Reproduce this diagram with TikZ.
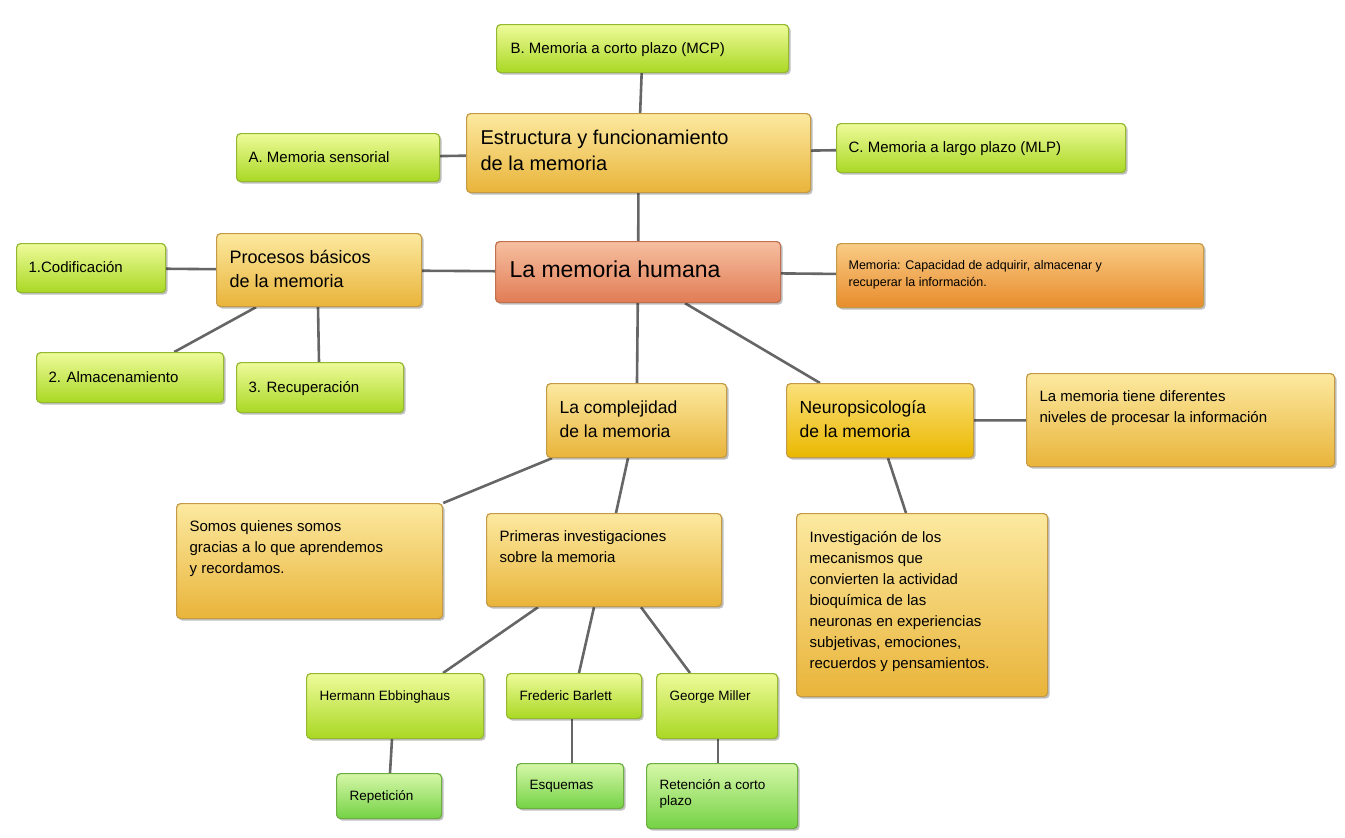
\documentclass[tikz,border=0pt]{standalone}
\usepackage{fontspec}
\setmainfont{Liberation Sans}
\usetikzlibrary{shadows}
\pgfdeclarelayer{bg}\pgfsetlayers{bg,main}
\definecolor{gT}{HTML}{EEFB9A}\definecolor{gB}{HTML}{A9D823}\definecolor{gD}{HTML}{94B830}
\definecolor{yT}{HTML}{FCE9A0}\definecolor{yB}{HTML}{E9B43A}\definecolor{yD}{HTML}{C49A45}
\definecolor{sT}{HTML}{F6BFA0}\definecolor{sB}{HTML}{E17C55}\definecolor{sD}{HTML}{C0704E}
\definecolor{oT}{HTML}{F9CB85}\definecolor{oB}{HTML}{E88C2C}
\definecolor{nT}{HTML}{FBE07A}\definecolor{nB}{HTML}{EAB800}
\definecolor{lT}{HTML}{D6F7A8}\definecolor{lB}{HTML}{74D245}\definecolor{lD}{HTML}{6CAF40}
\definecolor{ln}{HTML}{666666}
\tikzset{
 bx/.style={rectangle,rounded corners=4pt,line width=1.2pt,inner sep=0pt,
   drop shadow={shadow xshift=2pt,shadow yshift=-2pt,fill=black,opacity=0.25}},
 gbox/.style={bx,draw=gD,top color=gT,bottom color=gB},
 ybox/.style={bx,draw=yD,top color=yT,bottom color=yB},
 sbox/.style={bx,draw=sD,top color=sT,bottom color=sB},
 obox/.style={bx,draw=yD,top color=oT,bottom color=oB},
 nbox/.style={bx,draw=yD,top color=nT,bottom color=nB},
 lbox/.style={bx,draw=lD,top color=lT,bottom color=lB},
 con/.style={draw=ln,line width=2.6pt},
}
\newcommand\bxx[9]{%
 \pgfmathsetmacro\W{#4-#2}\pgfmathsetmacro\H{#5-#3}
 \pgfmathsetmacro\TW{#4-#2-2*#7}
 \node[#6,minimum width=\W pt,minimum height=\H pt,anchor=north west] (#1) at (#2,#3)
  {\parbox[c][\H pt][t]{\W pt}{\vspace*{#8pt}\hspace*{#7pt}\parbox[t]{\TW pt}{\raggedright #9}}};}
\begin{document}
\begin{tikzpicture}[x=1pt,y=-1pt]
\useasboundingbox (0,0) rectangle (1345,838);
\bxx{B}{496}{24}{788}{72}{gbox}{14}{18}{\fontsize{15}{18}\selectfont B. Memoria a corto plazo (MCP)}
\bxx{E}{466}{113}{810}{192}{ybox}{14}{16}{\fontsize{20}{26}\selectfont Estructura y funcionamiento\\de la memoria}
\bxx{A}{236}{133}{439}{181}{gbox}{12}{18}{\fontsize{15}{18}\selectfont A. Memoria sensorial}
\bxx{C}{836}{123}{1125}{172}{gbox}{12}{18}{\fontsize{15}{18}\selectfont C. Memoria a largo plazo (MLP)}
\bxx{P}{216}{233}{421}{306}{ybox}{13}{17}{\fontsize{18}{24}\selectfont Procesos básicos\\de la memoria}
\bxx{c1}{16}{243}{165}{292}{gbox}{12}{18}{\fontsize{15}{18}\selectfont 1.Codificación}
\bxx{M}{495}{241}{780}{302}{sbox}{14}{19}{\fontsize{23}{28}\selectfont La memoria humana}
\bxx{D}{836}{243}{1203}{307}{obox}{12}{17}{\fontsize{12.5}{17}\selectfont Memoria: Capacidad de adquirir, almacenar y\\recuperar la información.}
\bxx{c2}{36}{352}{223}{402}{gbox}{12}{19}{\fontsize{15}{18}\selectfont 2. Almacenamiento}
\bxx{c3}{236}{362}{403}{412}{gbox}{12}{19}{\fontsize{15}{18}\selectfont 3. Recuperación}
\bxx{Co}{546}{383}{726}{457}{ybox}{13}{17}{\fontsize{17.5}{24}\selectfont La complejidad\\de la memoria}
\bxx{N}{786}{383}{973}{457}{nbox}{13}{17}{\fontsize{17.5}{24}\selectfont Neuropsicología\\de la memoria}
\bxx{L}{1026}{373}{1334}{466}{ybox}{13}{17}{\fontsize{15}{21}\selectfont La memoria tiene diferentes\\niveles de procesar la información}
\bxx{S}{176}{503}{442}{618}{ybox}{13}{17}{\fontsize{15}{21}\selectfont Somos quienes somos\\gracias a lo que aprendemos\\y recordamos.}
\bxx{Pr}{486}{513}{721}{606}{ybox}{13}{17}{\fontsize{15}{21}\selectfont Primeras investigaciones\\sobre la memoria}
\bxx{I}{796}{513}{1047}{696}{ybox}{13}{18}{\fontsize{15}{21}\selectfont Investigación de los\\mecanismos que\\convierten la actividad\\bioquímica de las\\neuronas en experiencias\\subjetivas, emociones,\\recuerdos y pensamientos.}
\bxx{H}{306}{673}{483}{738}{gbox}{13}{17}{\fontsize{13.5}{17}\selectfont Hermann Ebbinghaus}
\bxx{F}{506}{673}{641}{718}{gbox}{13}{17}{\fontsize{13.5}{17}\selectfont Frederic Barlett}
\bxx{G}{656}{673}{777}{738}{gbox}{13}{17}{\fontsize{13.5}{17}\selectfont George Miller}
\bxx{R}{336}{773}{441}{818}{lbox}{13}{17}{\fontsize{13.5}{17}\selectfont Repetición}
\bxx{Es}{516}{763}{623}{808}{lbox}{13}{17}{\fontsize{13.5}{17}\selectfont Esquemas}
\bxx{Rc}{646}{763}{797}{828}{lbox}{13}{16}{\fontsize{13.5}{16}\selectfont Retención a corto\\plazo}
\begin{pgfonlayer}{bg}
\draw[con] (B) -- (E);
\draw[con] (A) -- (E);
\draw[con] (C) -- (E);
\draw[con] (E) -- (M);
\draw[con] (P) -- (M);
\draw[con] (c1) -- (P);
\draw[con] (M) -- (D);
\draw[con] ([xshift=40pt]P.south west) -- ([xshift=-50pt]c2.north east);
\draw[con] ([xshift=102pt]P.south west) -- ([xshift=83pt]c3.north west);
\draw[con] (M) -- (Co);
\draw[con] ([xshift=190pt]M.south west) -- ([xshift=34pt]N.north west);
\draw[con] (N) -- (L);
\draw[con] ([xshift=6pt]Co.south west) -- (S.north east);
\draw[con] ([xshift=82pt]Co.south west) -- ([xshift=130pt]Pr.north west);
\draw[con] ([xshift=102pt]N.south west) -- ([xshift=110pt]I.north west);
\draw[con] ([xshift=52pt]Pr.south west) -- ([xshift=137pt]H.north west);
\draw[con] ([xshift=108pt]Pr.south west) -- ([xshift=73pt]F.north west);
\draw[con] ([xshift=155pt]Pr.south west) -- ([xshift=34pt]G.north west);
\draw[con] ([xshift=86pt]H.south west) -- ([xshift=54pt]R.north west);
\draw[con] ([xshift=66pt]F.south west) -- ([xshift=56pt]Es.north west);
\draw[con] ([xshift=62pt]G.south west) -- ([xshift=72pt]Rc.north west);
\end{pgfonlayer}
\end{tikzpicture}
\end{document}
